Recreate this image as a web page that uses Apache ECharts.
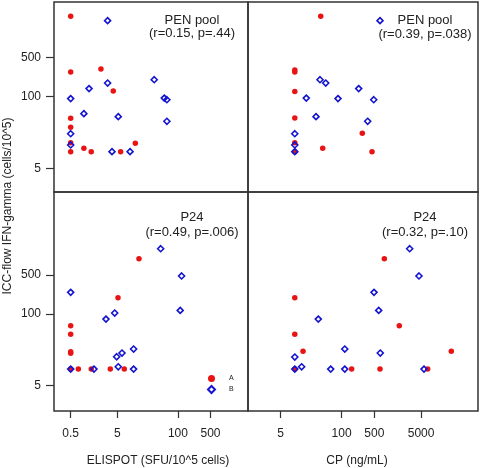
<!DOCTYPE html>
<html><head><meta charset="utf-8">
<script src="https://cdn.jsdelivr.net/npm/echarts@6/dist/echarts.min.js"></script>
<style>html,body{margin:0;padding:0;background:#fff}#c{width:480px;height:468px}</style>
</head><body><div id="c"></div>
<script>
// ---- data (x, y) ----
const groupNames = ['A', 'B'];
const xTicksElispot = [0.5, 5, 100, 500];
const xTicksCp = [5, 100, 500, 5000];
const yTicks = [5, 100, 500];

// PEN pool: ELISPOT vs ICC-flow
const penElispotA = [[0.5,2805],[0.5,276],[2.23,312],[4.1,125],[0.5,40],[0.5,27.6],[0.5,14.5],[0.5,10],[0.96,11.5],[1.38,10],[5.9,10],[12.2,14.2]];
const penElispotB = [[3.1,2335],[0.5,91],[1.24,138],[3.1,174],[31,200],[51,93],[58,87],[0.96,48.6],[5.25,42.9],[58,35.4],[0.5,21.1],[0.5,13.2],[3.85,10],[9.4,10]];
// PEN pool: CP vs ICC-flow
const penCpA = [[35.8,2805],[10,300],[10,276],[10,123],[10,40.6],[277,21.5],[10,14.5],[39.5,11.5],[447,10],[10,10]];
const penCpB = [[662,2335],[34.6,200],[45.8,174],[232,138],[17.6,93],[83.8,91],[486,87],[28.4,42.9],[361,35.4],[10,21.1],[10,13.2],[10,10]];
// P24: ELISPOT vs ICC-flow
const p24ElispotA = [[14.6,990],[5.18,195],[0.5,60.8],[0.5,42.5],[0.5,20.6],[0.5,19.3],[0.5,10],[0.73,10],[1.38,10],[3.54,10],[7.07,10]];
const p24ElispotB = [[42.7,1500],[120,482],[0.5,244],[112,115],[4.4,103],[2.86,80],[11.2,23],[6.31,19.5],[4.85,16.7],[5.25,11],[0.5,10],[1.58,10],[11.2,10]];
// P24: CP vs ICC-flow
const p24CpA = [[818,990],[10,195],[1710,60.8],[10,42.5],[15,21],[22100,21],[10,10],[164,10],[662,10],[6918,10]];
const p24CpB = [[2851,1500],[4508,482],[493,244],[621,115],[31.8,80],[117,23],[671,19.5],[10,16.5],[14,11],[10,10],[58.5,10],[117,10],[5768,10]];

const panelTitles = ['PEN pool', 'PEN pool', 'P24', 'P24'];
const panelStats = ['(r=0.15, p=.44)', '(r=0.39, p=.038)', '(r=0.49, p=.006)', '(r=0.32, p=.10)'];
const xTitles = ['ELISPOT (SFU/10^5 cells)', 'CP (ng/mL)'];
const yTitle = 'ICC-flow IFN-gamma (cells/10^5)';

// ---- chart ----
const RED = '#e81414', BLUE = '#1414d0', INK = '#222';
const FONT = '"Liberation Sans", Arial, sans-serif';
const chart = echarts.init(document.getElementById('c'), null, {renderer: 'canvas'});

const grids = [
  {left: 54, top: 2, width: 194, height: 190},
  {left: 248, top: 2, width: 230, height: 190},
  {left: 54, top: 192, width: 194, height: 219},
  {left: 248, top: 192, width: 230, height: 219}
].map(g => Object.assign({show: true, borderColor: '#333', borderWidth: 1.5, backgroundColor: 'transparent'}, g));

const xRanges = [[0.2193, 3192], [1.0, 82200], [0.2193, 3192], [1.0, 82200]];
const yRanges = [[1.864, 5083], [1.864, 5083], [1.744, 15920], [1.744, 15920]];
const xTickSets = [xTicksElispot, xTicksCp, xTicksElispot, xTicksCp];

const fmt = v => String(+(+v).toPrecision(6));

const xAxes = grids.map((g, i) => {
  const shown = i >= 2;
  return {
    type: 'log', logBase: 10, gridIndex: i, min: xRanges[i][0], max: xRanges[i][1],
    axisLine: {show: false},
    splitLine: {show: false},
    axisTick: {show: shown, inside: false, length: 7, lineStyle: {color: '#333', width: 1.2}, customValues: xTickSets[i]},
    axisLabel: {show: shown, customValues: xTickSets[i], formatter: fmt, fontSize: 12, fontFamily: FONT, color: INK, margin: 17}
  };
});
const yAxes = grids.map((g, i) => {
  const shown = i % 2 === 0;
  return {
    type: 'log', logBase: 10, gridIndex: i, min: yRanges[i][0], max: yRanges[i][1],
    axisLine: {show: false},
    splitLine: {show: false},
    axisTick: {show: shown, inside: false, length: 8, lineStyle: {color: '#333', width: 1.2}, customValues: yTicks},
    axisLabel: {show: shown, customValues: yTicks, formatter: fmt, fontSize: 12, fontFamily: FONT, color: INK, margin: 13}
  };
});

const panelData = [[penElispotA, penElispotB], [penCpA, penCpB], [p24ElispotA, p24ElispotB], [p24CpA, p24CpB]];
const series = [];
panelData.forEach((pair, i) => {
  series.push({
    name: groupNames[0], type: 'scatter', xAxisIndex: i, yAxisIndex: i,
    symbol: 'circle', symbolSize: 5.5, data: pair[0],
    itemStyle: {color: RED, opacity: 1}
  });
  series.push({
    name: groupNames[1], type: 'scatter', xAxisIndex: i, yAxisIndex: i,
    symbol: 'diamond', symbolSize: 6, data: pair[1],
    itemStyle: {color: 'rgba(255,255,255,0)', borderColor: BLUE, borderWidth: 1.6, opacity: 1}
  });
});

const titlePos = [[192, 20, 33], [425, 20, 34], [192, 217, 232], [425, 217, 232]];
const graphic = [];
titlePos.forEach((p, i) => {
  graphic.push({type: 'text', x: p[0], y: p[1], silent: true,
    style: {text: panelTitles[i], fill: INK, font: '13px ' + FONT, align: 'center', verticalAlign: 'middle'}});
  graphic.push({type: 'text', x: p[0], y: p[2], silent: true,
    style: {text: panelStats[i], fill: INK, font: '13px ' + FONT, align: 'center', verticalAlign: 'middle'}});
});
graphic.push({type: 'text', x: 158, y: 461, silent: true,
  style: {text: xTitles[0], fill: INK, font: '12px ' + FONT, align: 'center', verticalAlign: 'middle'}});
graphic.push({type: 'text', x: 357, y: 461, silent: true,
  style: {text: xTitles[1], fill: INK, font: '12px ' + FONT, align: 'center', verticalAlign: 'middle'}});
graphic.push({type: 'text', x: 8, y: 206, rotation: Math.PI / 2, silent: true,
  style: {text: yTitle, fill: INK, font: '12px ' + FONT, align: 'center', verticalAlign: 'middle'}});

chart.setOption({
  animation: false,
  backgroundColor: '#fff',
  grid: grids,
  xAxis: xAxes,
  yAxis: yAxes,
  legend: {
    show: true, orient: 'vertical', left: 202, top: 370,
    itemWidth: 7, itemHeight: 7, itemGap: 3, selectedMode: false,
    textStyle: {fontSize: 7, fontFamily: FONT, color: INK, padding: [0, 0, 0, 9]},
    data: [{name: groupNames[0], icon: 'circle'}, {name: groupNames[1], icon: 'diamond'}]
  },
  graphic: graphic,
  series: series
});
</script>
</body></html>
